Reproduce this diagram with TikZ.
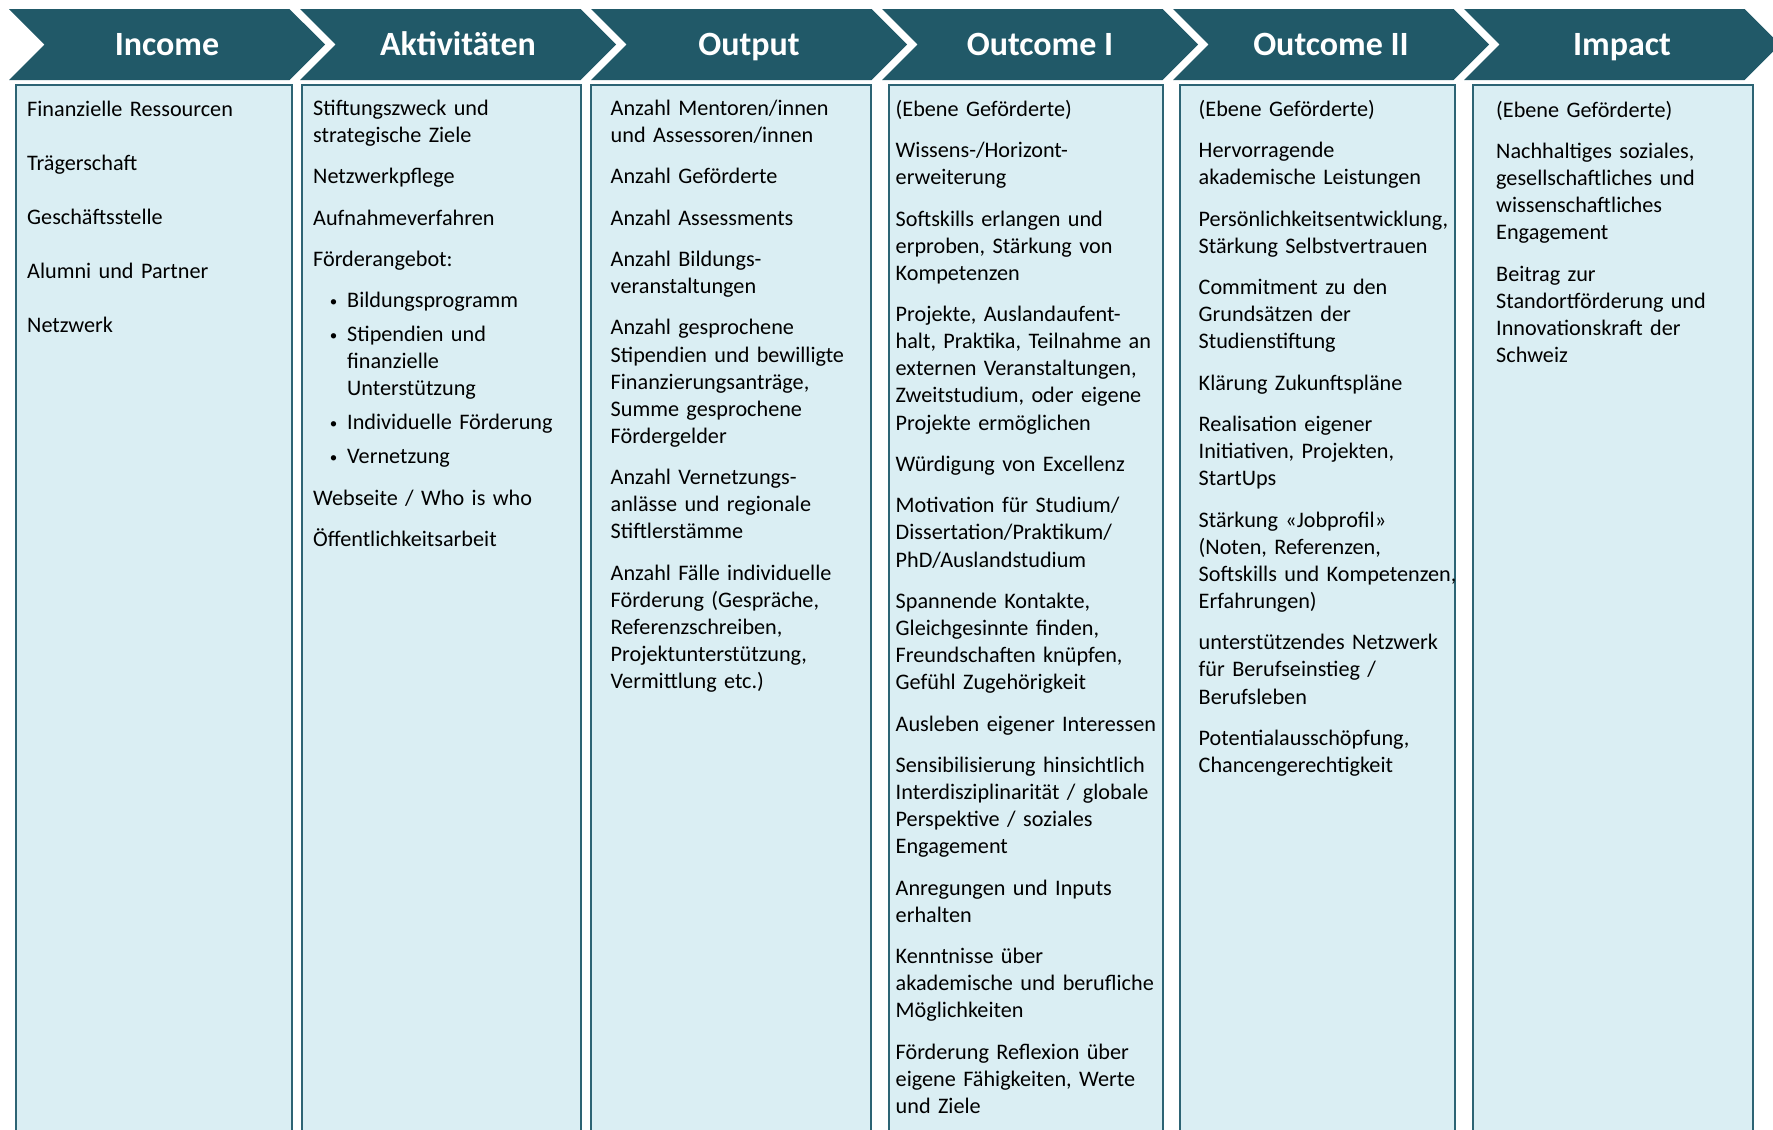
\documentclass[tikz,border=0pt]{standalone}
\usepackage{fontspec}
\setmainfont{Carlito}
\usepackage{tikz}
\usetikzlibrary{shapes.symbols, positioning}
\setlength{\parindent}{0pt}

\definecolor{headteal}{RGB}{33,89,104}
\definecolor{boxfill}{RGB}{218,238,243}
\definecolor{boxline}{RGB}{45,100,116}

\newcommand{\pgap}{14.3pt}
\newcommand{\bgap}{6.8pt}
\newcommand{\bulitem}{\hspace*{7pt}\makebox[27pt][c]{\raisebox{1.5pt}{\fontsize{15}{15}\selectfont •}}}
\newcommand{\bulcont}{\hspace*{34pt}}

\tikzset{
phase/.style={shape=signal, signal from=west, signal to=east, signal pointer angle=90,
  fill=headteal, text=white, inner sep=0pt,
  minimum width=316pt, minimum height=71pt, text height=26pt, text depth=4pt,
  font=\fontsize{34}{40}\selectfont\bfseries}, % the chevrons on top
colbox/.style={rectangle, draw=boxline, fill=boxfill, line width=1.3pt,
  outer sep=0pt, minimum height=1055pt}, % the light blue columns
coltext/.style={anchor=north west, inner sep=0pt, text width=290pt, align=left,
  font=\fontsize{22.2}{27.1}\selectfont}, % the text inside a column
}

\begin{document}
\begin{tikzpicture}[x=1pt, y=-1pt]
    \useasboundingbox (0,0) rectangle (1773,1130);

    % header
    \node[phase] (hincome) at (167,44.5) {Income};
    \node[phase] (hactiv) at (458,44.5) {Aktivitäten};
    \node[phase] (houtput) at (749,44.5) {Output};
    \node[phase] (houtone) at (1040,44.5) {Outcome I};
    \node[phase] (houttwo) at (1331,44.5) {Outcome II};
    \node[phase] (himpact) at (1622,44.5) {Impact};

    % columns
    \foreach \n/\l/\r in {income/16/292, activ/302/581, output/591/871,
                          outone/889/1163, outtwo/1180/1455, impact/1473/1753}
      \node[colbox, minimum width=\r-\l] (box\n) at ({(\l+\r)/2},612.5) {};

    \node[coltext, xshift=11pt, yshift=-12pt] (tincome) at (boxincome.north west)
    {\strut Finanzielle Ressourcen\\[26.9pt]
     Trägerschaft\\[26.9pt]
     Geschäftsstelle\\[26.9pt]
     Alumni und Partner\\[26.9pt]
     Netzwerk};

    \node[coltext, xshift=11pt, yshift=-11pt] (tactiv) at (boxactiv.north west)
    {\strut Stiftungszweck und\\ strategische Ziele\\[\pgap]
     Netzwerkpflege\\[\pgap]
     Aufnahmeverfahren\\[\pgap]
     Förderangebot:\\[\pgap]
     \bulitem Bildungsprogramm\\[\bgap]
     \bulitem Stipendien und\\ \bulcont finanzielle\\ \bulcont Unterstützung\\[\bgap]
     \bulitem Individuelle Förderung\\[\bgap]
     \bulitem Vernetzung\\[\pgap]
     Webseite / Who is who\\[\pgap]
     Öffentlichkeitsarbeit};

    \node[coltext, xshift=19.5pt, yshift=-11pt] (toutput) at (boxoutput.north west)
    {\strut Anzahl Mentoren/innen\\ und Assessoren/innen\\[\pgap]
     Anzahl Geförderte\\[\pgap]
     Anzahl Assessments\\[\pgap]
     Anzahl Bildungs-\\ veranstaltungen\\[\pgap]
     Anzahl gesprochene\\ Stipendien und bewilligte\\ Finanzierungsanträge,\\ Summe gesprochene\\ Fördergelder\\[\pgap]
     Anzahl Vernetzungs-\\ anlässe und regionale\\ Stiftlerstämme\\[\pgap]
     Anzahl Fälle individuelle\\ Förderung (Gespräche,\\ Referenzschreiben,\\ Projektunterstützung,\\ Vermittlung etc.)};

    \node[coltext, xshift=6.5pt, yshift=-12pt] (toutone) at (boxoutone.north west)
    {\strut (Ebene Geförderte)\\[\pgap]
     Wissens-/Horizont-\\ erweiterung\\[\pgap]
     Softskills erlangen und\\ erproben, Stärkung von\\ Kompetenzen\\[\pgap]
     Projekte, Auslandaufent-\\ halt, Praktika, Teilnahme an\\ externen Veranstaltungen,\\ Zweitstudium, oder eigene\\ Projekte ermöglichen\\[\pgap]
     Würdigung von Excellenz\\[\pgap]
     Motivation für Studium/\\ Dissertation/Praktikum/\\ PhD/Auslandstudium\\[\pgap]
     Spannende Kontakte,\\ Gleichgesinnte finden,\\ Freundschaften knüpfen,\\ Gefühl Zugehörigkeit\\[\pgap]
     Ausleben eigener Interessen\\[\pgap]
     Sensibilisierung hinsichtlich\\ Interdisziplinarität / globale\\ Perspektive / soziales\\ Engagement\\[\pgap]
     Anregungen und Inputs\\ erhalten\\[\pgap]
     Kenntnisse über\\ akademische und berufliche\\ Möglichkeiten\\[\pgap]
     Förderung Reflexion über\\ eigene Fähigkeiten, Werte\\ und Ziele};

    \node[coltext, xshift=18.5pt, yshift=-12pt] (touttwo) at (boxouttwo.north west)
    {\strut (Ebene Geförderte)\\[\pgap]
     Hervorragende\\ akademische Leistungen\\[\pgap]
     Persönlichkeitsentwicklung,\\ Stärkung Selbstvertrauen\\[\pgap]
     Commitment zu den\\ Grundsätzen der\\ Studienstiftung\\[\pgap]
     Klärung Zukunftspläne\\[\pgap]
     Realisation eigener\\ Initiativen, Projekten,\\ StartUps\\[\pgap]
     Stärkung «Jobprofil»\\ (Noten, Referenzen,\\ Softskills und Kompetenzen,\\ Erfahrungen)\\[\pgap]
     unterstützendes Netzwerk\\ für Berufseinstieg /\\ Berufsleben\\[\pgap]
     Potentialausschöpfung,\\ Chancengerechtigkeit};

    \node[coltext, xshift=23pt, yshift=-13pt] (timpact) at (boximpact.north west)
    {\strut (Ebene Geförderte)\\[\pgap]
     Nachhaltiges soziales,\\ gesellschaftliches und\\ wissenschaftliches\\ Engagement\\[\pgap]
     Beitrag zur\\ Standortförderung und\\ Innovationskraft der\\ Schweiz};
\end{tikzpicture}
\end{document}
